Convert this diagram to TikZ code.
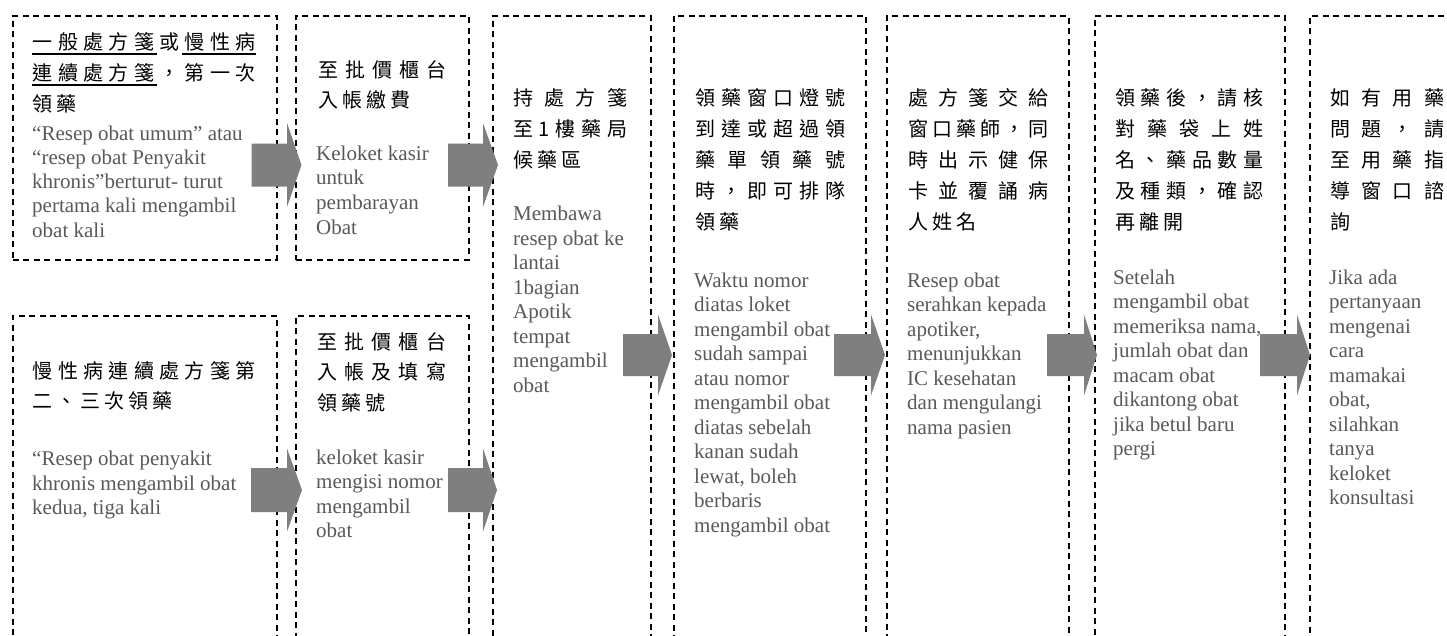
\documentclass[tikz,border=0pt]{standalone}
\usepackage{fontspec}
\setmainfont{Liberation Serif}
\newfontfamily\cjk{Noto Sans CJK TC}
\definecolor{indo}{RGB}{89,89,89}
\definecolor{arrowfill}{RGB}{127,127,127}
\makeatletter
\def\spreadchars#1{\spr@a#1\spr@end}
\def\spr@a#1#2\spr@end{#1\ifx\relax#2\relax\else\hskip 4pt plus 1fill\spr@a#2\spr@end\fi}
\makeatother
\newcommand\jl[2]{\hbox to #1pt{\spreadchars{#2}}}
\newcommand\nl[1]{\hbox{\spreadchars{#1}}}
\newcommand\tl[1]{\hbox{#1}}
\newcommand\tblock[2]{\vtop{\baselineskip=#1pt\lineskiplimit=-100pt\lineskip=0pt #2}}
\newcommand\barrow[6]{\fill[arrowfill] (#1,{#4-#5}) -- (#2,{#4-#5}) -- (#2,{#4-#6}) -- (#3,#4) -- (#2,{#4+#6}) -- (#2,{#4+#5}) -- (#1,{#4+#5}) -- cycle;}
\tikzset{
  dbox/.style={draw=black, line width=1.8pt, dash pattern=on 6pt off 4.5pt, anchor=north west, inner sep=0pt, rectangle},
  zh/.style={anchor=base west, inner sep=0pt, font=\cjk\fontsize{20}{20}\selectfont, text=black},
  idt/.style={anchor=base west, inner sep=0pt, font=\fontsize{21}{24.5}\selectfont, text=indo},
}
\begin{document}
\begin{tikzpicture}[x=1pt,y=-1pt]
\useasboundingbox (0,0) rectangle (1447,635);
\clip (0,0) rectangle (1447,635);
\fill[white] (0,0) rectangle (1447,635);
% boxes
\node[dbox, minimum width=264pt, minimum height=244pt] (B1) at (12,15) {};
\node[dbox, minimum width=173pt, minimum height=244pt] (B2) at (295,15) {};
\node[dbox, minimum width=264pt, minimum height=345pt] (B3) at (12,315) {};
\node[dbox, minimum width=173pt, minimum height=345pt] (B4) at (295,315) {};
\node[dbox, minimum width=158pt, minimum height=645pt] (B5) at (492,15) {};
\node[dbox, minimum width=192pt, minimum height=645pt] (B6) at (673,15) {};
\node[dbox, minimum width=182pt, minimum height=645pt] (B7) at (886,15) {};
\node[dbox, minimum width=190pt, minimum height=645pt] (B8) at (1094,15) {};
\node[dbox, minimum width=170pt, minimum height=645pt] (B9) at (1309,15) {};
% block arrows
\barrow{251.5}{287}{301.5}{165}{21.5}{42}
\barrow{448}{483}{498}{165}{21.5}{42}
\barrow{251}{287}{302}{490}{22}{41.5}
\barrow{448}{483}{497}{490}{22}{41.5}
\barrow{623}{658}{672}{355}{21}{40.5}
\barrow{834}{871}{885}{355}{21}{40.5}
\barrow{1047}{1084}{1097}{355}{21}{40.5}
\barrow{1260}{1297}{1310}{355}{21}{40.5}
% box 1
\node[zh] (T1z) at (32.5,49.5) {\tblock{31}{\jl{223}{一般處方箋或慢性病}\jl{223}{連續處方箋，第一次}\nl{領藥}}};
\draw[line width=1.3pt] (32,54) -- (157,54);
\draw[line width=1.3pt] (182,54) -- (256,54);
\draw[line width=1.3pt] (32,85) -- (157,85);
\node[idt] (T1i) at (32,140) {\tblock{24.3}{\tl{“Resep obat umum” atau}\tl{“resep obat Penyakit}\tl{khronis”berturut- turut}\tl{pertama kali mengambil}\tl{obat kali}}};
% box 2
\node[zh] (T2z) at (318,77.6) {\tblock{30}{\jl{128}{至批價櫃台}\nl{入帳繳費}}};
\node[idt] (T2i) at (316,160) {\tblock{24.7}{\tl{Keloket kasir}\tl{untuk}\tl{pembarayan}\tl{Obat}}};
% box 3
\node[zh] (T3z) at (32.5,378.4) {\tblock{30}{\jl{223}{慢性病連續處方箋第}\nl{二、三次領藥}}};
\node[idt] (T3i) at (32,465.7) {\tblock{24.3}{\tl{“Resep obat penyakit}\tl{khronis mengambil obat}\tl{kedua, tiga kali}}};
% box 4
\node[zh] (T4z) at (317,349.3) {\tblock{30.6}{\jl{129}{至批價櫃台}\jl{129}{入帳及填寫}\nl{領藥號}}};
\node[idt] (T4i) at (316,464) {\tblock{24.5}{\tl{keloket kasir}\tl{mengisi nomor}\tl{mengambil}\tl{obat}}};
% box 5
\node[zh] (T5z) at (513,105) {\tblock{31}{\jl{114}{持處方箋}\jl{114}{至1樓藥局}\nl{候藥區}}};
\node[idt] (T5i) at (513,220.5) {\tblock{24.5}{\tl{Membawa}\tl{resep obat ke}\tl{lantai}\tl{1bagian}\tl{Apotik}\tl{tempat}\tl{mengambil}\tl{obat}}};
% box 6
\node[zh] (T6z) at (695,105) {\tblock{31}{\jl{150}{領藥窗口燈號}\jl{150}{到達或超過領}\jl{150}{藥單領藥號}\jl{150}{時，即可排隊}\nl{領藥}}};
\node[idt] (T6i) at (694,287) {\tblock{24.5}{\tl{Waktu nomor}\tl{diatas loket}\tl{mengambil obat}\tl{sudah sampai}\tl{atau nomor}\tl{mengambil obat}\tl{diatas sebelah}\tl{kanan sudah}\tl{lewat, boleh}\tl{berbaris}\tl{mengambil obat}}};
% box 7
\node[zh] (T7z) at (908,105) {\tblock{31}{\jl{140}{處方箋交給}\jl{140}{窗口藥師，同}\jl{140}{時出示健保}\jl{140}{卡並覆誦病}\nl{人姓名}}};
\node[idt] (T7i) at (907,287) {\tblock{24.5}{\tl{Resep obat}\tl{serahkan kepada}\tl{apotiker,}\tl{menunjukkan}\tl{IC kesehatan}\tl{dan mengulangi}\tl{nama pasien}}};
% box 8
\node[zh] (T8z) at (1115,105) {\tblock{31}{\jl{148}{領藥後，請核}\jl{148}{對藥袋上姓}\jl{148}{名、藥品數量}\jl{148}{及種類，確認}\nl{再離開}}};
\node[idt] (T8i) at (1113,284) {\tblock{24.5}{\tl{Setelah}\tl{mengambil obat}\tl{memeriksa nama,}\tl{jumlah obat dan}\tl{macam obat}\tl{dikantong obat}\tl{jika betul baru}\tl{pergi}}};
% box 9
\node[zh] (T9z) at (1330,105) {\tblock{31}{\jl{114}{如有用藥}\jl{114}{問題，請}\jl{114}{至用藥指}\jl{114}{導窗口諮}\nl{詢}}};
\node[idt] (T9i) at (1329,284) {\tblock{24.5}{\tl{Jika ada}\tl{pertanyaan}\tl{mengenai}\tl{cara}\tl{mamakai}\tl{obat,}\tl{silahkan}\tl{tanya}\tl{keloket}\tl{konsultasi}}};
\end{tikzpicture}
\end{document}
